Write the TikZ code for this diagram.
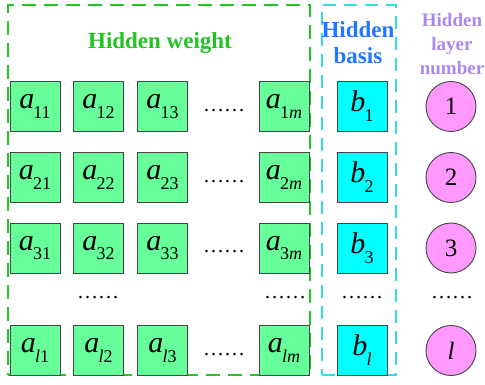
\documentclass[tikz,border=0pt]{standalone}
\usepackage{fontspec}
\setmainfont{Liberation Serif}
\newfontfamily\tms{Liberation Serif}
\definecolor{gfill}{HTML}{66FF99}
\definecolor{cfill}{HTML}{00FFFF}
\definecolor{pfill}{HTML}{FF99FF}
\definecolor{gline}{HTML}{22C422}
\definecolor{cline}{HTML}{33DDDD}
\definecolor{btext}{HTML}{2277FF}
\definecolor{ltext}{HTML}{AA88EE}
\definecolor{edge}{HTML}{444444}
\newcommand{\vsub}[2]{\tms\fontsize{30}{30}\selectfont\textit{#1}\kern-0.03em\raisebox{-0.33em}{\fontsize{18}{18}\selectfont #2}}
\tikzset{
  wbox/.style={draw=edge, line width=0.9pt, fill=gfill, minimum size=50pt, inner sep=0pt},
  bbox/.style={wbox, fill=cfill},
  circ/.style={circle, draw=edge, line width=0.9pt, fill=pfill, minimum size=50pt, inner sep=0pt, font=\tms\fontsize{25}{25}\selectfont},
  dots/.style={inner sep=0pt, font=\tms\fontsize{21}{21}\selectfont},
  gdash/.style={draw=gline, line width=2.6pt, dash pattern=on 14pt off 8pt},
  cdash/.style={draw=cline, line width=2.4pt, dash pattern=on 13pt off 8pt},
  head/.style={font=\tms\fontsize{23}{26}\selectfont\bfseries, align=center, inner sep=0pt}
}
\begin{document}
\begin{tikzpicture}[x=1pt,y=-1pt]
\useasboundingbox (0,0) rectangle (485,385);
% frames
\node[gdash, minimum width=302pt, minimum height=370pt, inner sep=0pt] (gf) at (159,190) {};
\node[cdash, minimum width=74pt, minimum height=370pt, inner sep=0pt] (cf) at (359,190) {};
% headings
\node[head, text=gline] (hw) at (160,43) {Hidden weight};
\node[head, text=btext] (hb) at (358,43) {Hidden\\basis};
\node[head, text=ltext, font=\tms\fontsize{19}{24}\selectfont\bfseries] (hl) at (452,44) {Hidden\\layer\\number};
% rows
\foreach \r/\y/\s in {1/106.5/1, 2/177.5/2, 3/248/3, l/350.5/\textit{l}} {
  \node[wbox] (a\r1) at (35,\y) {\vsub{a}{\s1}};
  \node[wbox] (a\r2) at (98.5,\y) {\vsub{a}{\s2}};
  \node[wbox] (a\r3) at (162.5,\y) {\vsub{a}{\s3}};
  \node[dots] (d\r) at (224,\y+4) {……};
  \node[wbox] (a\r m) at (284,\y) {\vsub{a}{\s\textit{m}}};
  \node[bbox] (b\r) at (362,\y) {\vsub{b}{\s}};
}
\node[circ] (c1) at (451,106.5) {1};
\node[circ] (c2) at (451,177.5) {2};
\node[circ] (c3) at (451,248) {3};
\node[circ] (cl) at (451,350.5) {\textit{l}};
% vertical dots
\node[dots] (v1) at (98,298) {……};
\node[dots] (v2) at (285,298) {……};
\node[dots] (v3) at (362,298) {……};
\node[dots] (v4) at (452,298) {……};
\end{tikzpicture}
\end{document}
